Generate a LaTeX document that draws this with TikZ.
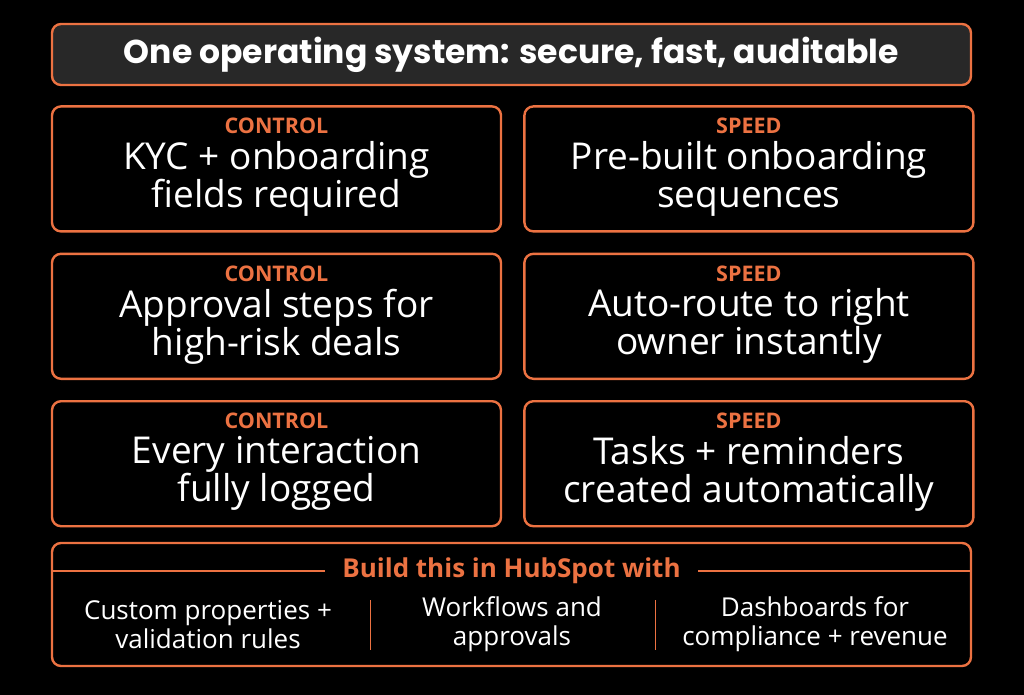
\documentclass[tikz,border=0pt]{standalone}
\usepackage{fontspec}
\setmainfont{Open Sans}
\newfontfamily\headfont{Poppins}
\usetikzlibrary{positioning}
\definecolor{accent}{RGB}{236,114,66}
\definecolor{panel}{RGB}{40,40,40}
\tikzset{
	card/.style={draw=accent, line width=2.4pt, rounded corners=9pt, fill=black,
		minimum width=449pt, minimum height=125pt, inner sep=0pt},
	tag/.style={text=accent, font=\bfseries\fontsize{21.5}{24}\selectfont},
	body/.style={text=white, align=center, font=\fontsize{37}{38}\selectfont},
	tool/.style={text=white, align=center, font=\fontsize{26}{29}\selectfont},
}
\begin{document}
\begin{tikzpicture}[x=1pt,y=-1pt]
	\useasboundingbox (0,0) rectangle (1024,695);
	\fill[black] (0,0) rectangle (1024,695);
	
	\node(T) [card, fill=panel, minimum width=919pt, minimum height=61pt, text=white,
		font=\headfont\bfseries\fontsize{33}{38}\selectfont] at (511.5,54.5)
		{One operating system: secure, fast, auditable};
	
	\node(C1) [card, anchor=north west] at ([yshift=-19pt]T.south west) {};
	\node(S1) [card, right=21pt of C1] {};
	\node(C2) [card, below=20pt of C1] {};
	\node(S2) [card, right=21pt of C2] {};
	\node(C3) [card, below=20pt of C2] {};
	\node(S3) [card, right=21pt of C3] {};
	
	\node(C1tag) [tag] at ([yshift=-21pt]C1.north) {CONTROL};
	\node(C1txt) [body] at ([yshift=-10pt]C1.center) {KYC + onboarding\\fields required};
	\node(S1tag) [tag] at ([yshift=-21pt]S1.north) {SPEED};
	\node(S1txt) [body] at ([yshift=-10pt]S1.center) {Pre-built onboarding\\sequences};
	\node(C2tag) [tag] at ([yshift=-21pt]C2.north) {CONTROL};
	\node(C2txt) [body] at ([yshift=-10pt]C2.center) {Approval steps for\\high-risk deals};
	\node(S2tag) [tag] at ([yshift=-21pt]S2.north) {SPEED};
	\node(S2txt) [body] at ([yshift=-10pt]S2.center) {Auto-route to right\\owner instantly};
	\node(C3tag) [tag] at ([yshift=-21pt]C3.north) {CONTROL};
	\node(C3txt) [body] at ([yshift=-10pt]C3.center) {Every interaction\\fully logged};
	\node(S3tag) [tag] at ([yshift=-21pt]S3.north) {SPEED};
	\node(S3txt) [body] at ([yshift=-10pt]S3.center) {Tasks + reminders\\created automatically};
	
	% tools panel
	\node(B) [card, minimum width=919pt, minimum height=123pt] at (511.5,604.5) {};
	\node(Bhead) [tag, font=\bfseries\fontsize{26}{28}\selectfont] at (511.5,571)
		{Build this in HubSpot with};
	\draw[accent, line width=1.2pt] (B.west |- Bhead) -- ([xshift=-14pt]Bhead.west);
	\draw[accent, line width=1.2pt] ([xshift=14pt]Bhead.east) -- (B.east |- Bhead);
	
	\node(B1) [tool] at (208,624.5) {Custom properties +\\validation rules};
	\node(B2) [tool] at (512,624.5) {Workflows and\\approvals};
	\node(B3) [tool] at (815,624.5) {Dashboards for\\compliance + revenue};
	
	\coordinate(D1) at (370,600);
	\coordinate(D2) at (655,600);
	\draw[accent, line width=1pt] (D1) -- ++(0,50);
	\draw[accent, line width=1pt] (D2) -- ++(0,50);
	
\end{tikzpicture}
\end{document}
